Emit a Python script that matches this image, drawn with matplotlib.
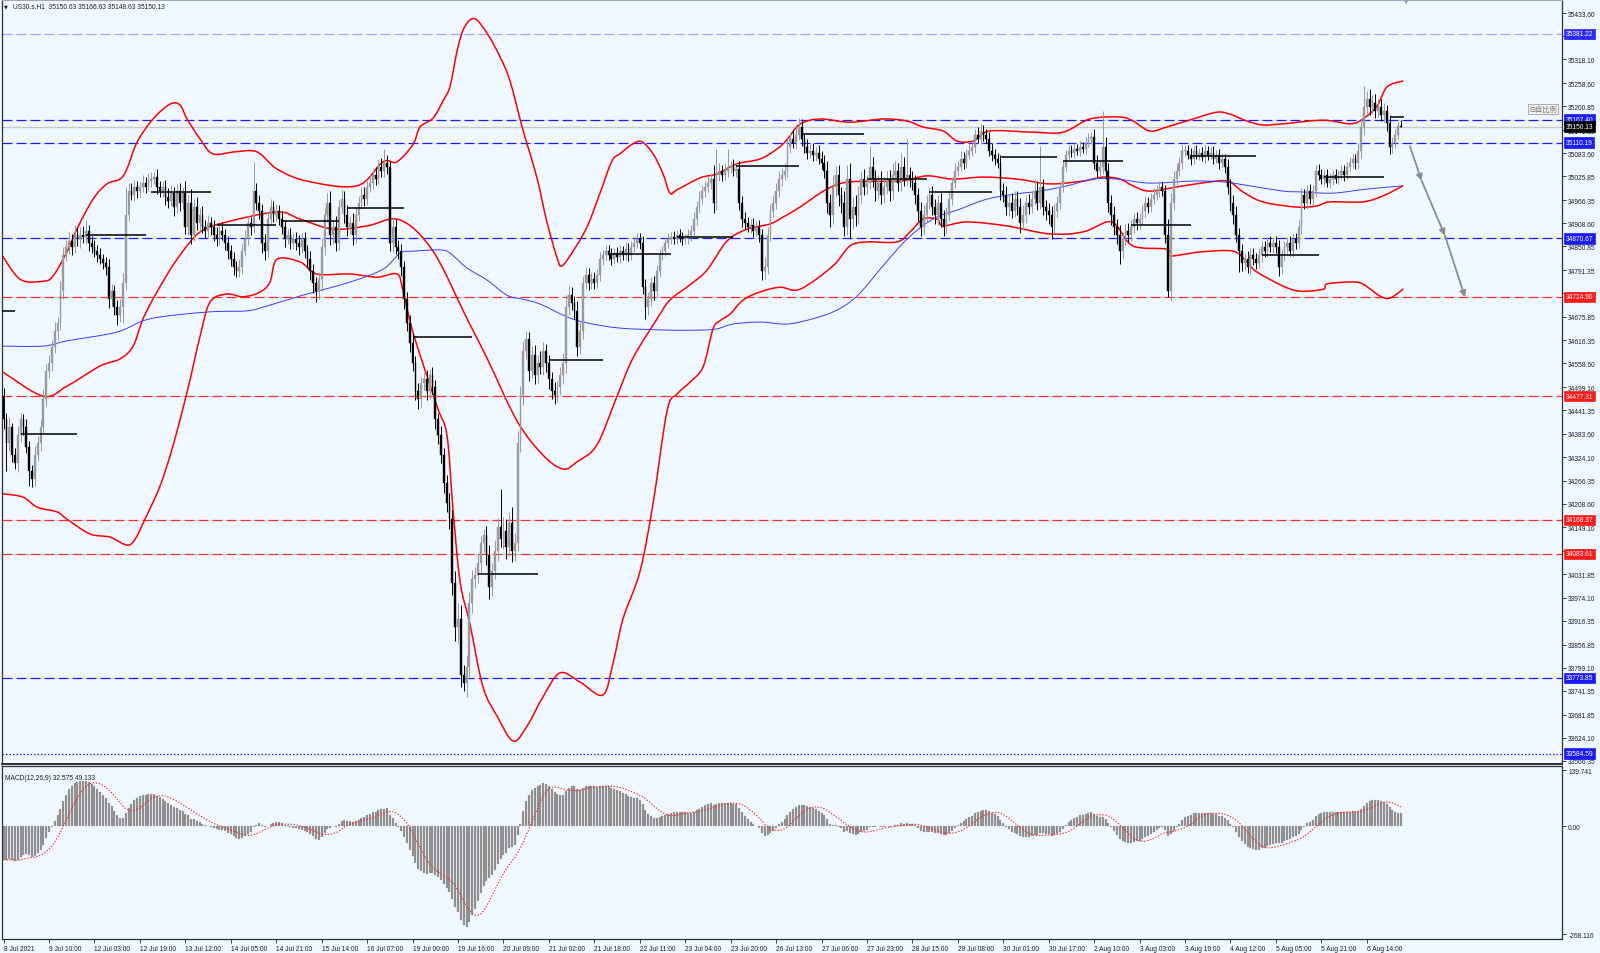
import numpy as np
import pandas as pd
import matplotlib
matplotlib.use("Agg")
import matplotlib.pyplot as plt
from matplotlib.path import Path
from matplotlib.patches import PathPatch
from matplotlib.transforms import blended_transform_factory

plt.rcParams['font.family'] = ['Liberation Sans', 'DejaVu Sans']

symbol_line = "US30.s,H1  35150.63 35166.63 35148.63 35150.13"
macd_title = "MACD(12,26,9) 32.575 49.133"

# H1 closes, 16 bars per row (one row per time label)
first_open = 34478.0
closes = [
    34420, 34360, 34400, 34330, 34310, 34380, 34420, 34400, 34350, 34290, 34270, 34330, 34360, 34400, 34470, 34540,
    34560, 34600, 34640, 34660, 34740, 34830, 34850, 34865, 34850, 34880, 34870, 34880, 34875, 34890, 34860, 34850,
    34840, 34830, 34820, 34810, 34800, 34720, 34740, 34700, 34680, 34700, 34760, 34930, 34990, 34980, 35000, 34990,
    35000, 35010, 35000, 35015, 35020, 35025, 35000, 34990, 35000, 34975, 34965, 34985, 34950, 34990, 34960, 34985,
    34900, 34960, 34880, 34950, 34910, 34930, 34900, 34890, 34910, 34900, 34880, 34870, 34890, 34880, 34860, 34840,
    34820, 34800, 34790, 34800, 34840, 34870, 34910, 34900, 34990, 34960, 34940, 34860, 34840, 34920, 34950, 34930,
    34940, 34920, 34900, 34870, 34880, 34860, 34870, 34860, 34850, 34870, 34840, 34820, 34790, 34760, 34740, 34770,
    34850, 34930, 34960, 34880, 34900, 34860, 34950, 34970, 34930, 34900, 34910, 34880, 34930, 34960, 34980, 34970,
    35000, 35010, 35030, 35020, 35050, 35040, 35060, 35050, 34860, 34900, 34850, 34840, 34800, 34720, 34660, 34610,
    34560, 34490, 34470, 34510, 34520, 34490, 34530, 34500, 34420, 34380, 34330, 34260, 34210, 34170, 34010, 33900,
    33920, 33780, 33760, 33800, 33960, 34020, 34030, 34060, 34110, 34130, 34080, 34000, 34040, 34090, 34150, 34120,
    34140, 34100, 34160, 34090, 34110, 34360, 34480, 34590, 34620, 34540, 34580, 34530, 34560, 34550, 34590, 34560,
    34520, 34490, 34480, 34500, 34530, 34560, 34700, 34730, 34710, 34690, 34600, 34640, 34760, 34780, 34760, 34770,
    34760, 34780, 34820, 34830, 34840, 34830, 34820, 34835, 34825, 34840, 34830, 34845, 34830, 34850, 34860, 34870,
    34860, 34750, 34700, 34720, 34760, 34740, 34790, 34830, 34840, 34860, 34870, 34875, 34870, 34880, 34875, 34870,
    34870, 34880, 34890, 34920, 34950, 34970, 34990, 35000, 35010, 35020, 34960, 35030, 35040, 35030, 35040, 35050,
    35050, 35040, 35045, 34960, 34920, 34910, 34900, 34905, 34890, 34900, 34880, 34790, 34800, 34880, 34940, 34960,
    34990, 35020, 35030, 35040, 35100, 35120, 35110, 35130, 35150, 35120, 35100, 35085, 35090, 35080, 35085, 35070,
    35060, 35040, 34960, 34930, 35000, 35030, 34980, 34960, 34900, 35020, 34920, 34950, 34930, 34980, 35020, 35000,
    35010, 35050, 35020, 34990, 35010, 34980, 35000, 35020, 34990, 35030, 35040, 35010, 35050, 35020, 35030, 35020,
    35010, 34980, 34940, 34900, 34930, 34960, 34980, 34950, 34930, 34960, 34920, 34900, 34930, 34970, 35010, 35040,
    35050, 35070, 35060, 35080, 35090, 35100, 35130, 35120, 35140, 35130, 35120, 35090, 35080, 35070, 35060, 34990,
    34980, 34950, 34960, 34940, 34970, 34950, 34910, 34930, 34960, 34950, 34970, 34990, 34960, 35000, 34950, 34940,
    34930, 34900, 34940, 34960, 35000, 35050, 35080, 35090, 35085, 35095, 35090, 35100, 35095, 35110, 35120, 35125,
    35060, 35040, 35050, 35100, 35040, 34960, 34930, 34900, 34880, 34840, 34870, 34890, 34880, 34900, 34920, 34910,
    34920, 34940, 34960, 34950, 34970, 34980, 34990, 35000, 34990, 34880, 34740, 34960, 35020, 35040, 35060, 35090,
    35090, 35080, 35070, 35090, 35080, 35085, 35075, 35090, 35080, 35085, 35070, 35080, 35060, 35070, 35050, 35000,
    34960, 34930, 34880, 34840, 34810, 34820, 34800, 34830, 34820, 34810, 34830, 34850, 34840, 34860, 34850, 34860,
    34850, 34800, 34830, 34850, 34860, 34840, 34870, 34860, 34900, 34980, 34960, 34990, 34970, 34990, 35040, 35030,
    35020, 35030, 35010, 35020, 35030, 35020, 35030, 35040, 35030, 35050, 35060, 35070, 35060, 35090, 35150, 35200,
    35220, 35200, 35210, 35190, 35200, 35180, 35190, 35160, 35100, 35110, 35130, 35150.63, 35150.13,
]

# wick length above / below the body, points
wick_hi = [
    20, 15, 25, 10, 18, 22, 15, 12, 20, 14, 16, 22, 18, 20, 24, 18,
    20, 18, 22, 15, 25, 20, 18, 22, 16, 24, 18, 20, 22, 26, 15, 18,
    16, 14, 18, 12, 15, 20, 18, 14, 16, 20, 24, 70, 18, 20, 16, 14,
    15, 18, 14, 20, 16, 12, 18, 15, 14, 16, 22, 18, 14, 16, 20, 15,
    30, 18, 35, 20, 25, 16, 22, 18, 20, 15, 18, 20, 16, 22, 14, 18,
    15, 18, 14, 20, 16, 22, 18, 15, 71, 20, 18, 16, 22, 18, 20, 15,
    18, 14, 20, 16, 15, 18, 14, 16, 20, 15, 18, 14, 20, 16, 15, 18,
    22, 18, 25, 30, 20, 28, 18, 22, 20, 25, 18, 24, 20, 16, 18, 20,
    15, 18, 14, 20, 16, 22, 34, 20, 15, 25, 20, 18, 16, 15, 18, 20,
    22, 18, 20, 15, 18, 22, 16, 20, 18, 15, 22, 18, 20, 25, 22, 30,
    40, 35, 25, 30, 28, 22, 20, 25, 18, 15, 22, 25, 20, 28, 22, 96,
    35, 30, 28, 40, 25, 30, 22, 25, 20, 18, 22, 25, 20, 30, 22, 18,
    20, 18, 22, 16, 20, 25, 30, 22, 20, 18, 25, 22, 18, 20, 16, 18,
    16, 14, 18, 12, 15, 14, 16, 12, 15, 14, 12, 16, 14, 15, 12, 14,
    14, 18, 20, 16, 14, 18, 15, 14, 12, 15, 14, 12, 14, 12, 14, 12,
    12, 14, 15, 16, 14, 18, 15, 14, 16, 15, 35, 63, 18, 15, 20, 43,
    15, 18, 14, 20, 16, 18, 14, 15, 16, 14, 18, 15, 25, 20, 16, 18,
    20, 18, 16, 20, 18, 15, 22, 20, 21, 18, 15, 20, 16, 18, 15, 20,
    18, 20, 25, 22, 30, 22, 25, 20, 28, 35, 40, 25, 30, 22, 20, 25,
    20, 52, 25, 22, 18, 30, 25, 20, 22, 28, 25, 20, 35, 25, 89, 20,
    18, 20, 16, 22, 25, 20, 18, 22, 20, 18, 25, 22, 20, 18, 15, 20,
    15, 18, 16, 14, 18, 15, 14, 18, 16, 15, 14, 16, 18, 15, 14, 20,
    18, 22, 20, 25, 18, 20, 22, 25, 20, 22, 18, 30, 25, 102, 20, 18,
    20, 22, 18, 16, 15, 14, 12, 14, 15, 14, 12, 14, 12, 14, 15, 12,
    18, 20, 16, 90, 25, 20, 18, 22, 20, 25, 18, 16, 20, 18, 15, 16,
    15, 14, 16, 15, 14, 16, 15, 14, 12, 15, 40, 25, 18, 16, 14, 15,
    15, 14, 16, 12, 14, 12, 15, 14, 12, 14, 16, 12, 15, 14, 12, 18,
    18, 20, 22, 16, 18, 15, 20, 16, 18, 15, 16, 14, 15, 14, 16, 14,
    16, 18, 14, 15, 14, 16, 14, 15, 18, 16, 15, 14, 16, 15, 14, 16,
    14, 12, 15, 14, 12, 14, 12, 15, 14, 12, 14, 15, 12, 18, 20, 52,
    20, 25, 18, 22, 20, 18, 20, 15, 18, 15, 14, 12, 16,
]
wick_lo = [
    25, 69, 20, 18, 15, 22, 18, 20, 15, 37, 20, 18, 15, 20, 16, 18,
    18, 20, 16, 22, 18, 20, 15, 18, 20, 16, 18, 22, 15, 18, 20, 16,
    15, 18, 14, 16, 20, 22, 18, 20, 25, 18, 40, 18, 15, 14, 16, 18,
    15, 14, 16, 12, 15, 14, 18, 16, 15, 20, 18, 14, 22, 16, 20, 15,
    18, 20, 22, 15, 18, 20, 16, 18, 15, 20, 16, 18, 15, 14, 18, 20,
    18, 20, 16, 15, 18, 14, 16, 20, 15, 18, 20, 25, 22, 16, 15, 18,
    15, 16, 18, 20, 14, 16, 15, 18, 20, 16, 18, 20, 22, 25, 29, 20,
    30, 20, 18, 25, 22, 20, 18, 16, 20, 22, 18, 25, 20, 16, 15, 18,
    15, 14, 16, 15, 14, 16, 15, 18, 20, 25, 18, 20, 22, 25, 20, 22,
    20, 22, 25, 20, 18, 22, 20, 18, 25, 22, 20, 25, 22, 25, 30, 35,
    40, 30, 19, 35, 30, 25, 22, 20, 25, 22, 25, 30, 22, 20, 25, 20,
    25, 30, 22, 28, 25, 20, 22, 25, 20, 25, 18, 22, 20, 18, 20, 22,
    25, 20, 22, 18, 20, 22, 25, 20, 18, 20, 22, 18, 20, 16, 18, 15,
    15, 14, 16, 15, 14, 12, 15, 14, 12, 15, 14, 12, 15, 14, 12, 14,
    15, 18, 30, 20, 18, 22, 16, 15, 14, 12, 14, 12, 14, 12, 14, 15,
    14, 12, 15, 14, 16, 15, 14, 15, 14, 16, 25, 18, 16, 15, 14, 16,
    15, 14, 16, 18, 20, 16, 14, 15, 16, 14, 18, 23, 20, 18, 16, 15,
    15, 16, 18, 14, 16, 15, 14, 16, 14, 18, 15, 16, 14, 15, 16, 14,
    16, 18, 25, 30, 22, 25, 28, 25, 22, 20, 50, 25, 28, 22, 20, 22,
    18, 16, 22, 25, 18, 22, 20, 18, 25, 20, 18, 22, 20, 18, 16, 20,
    18, 22, 25, 22, 20, 18, 16, 20, 22, 25, 20, 22, 18, 16, 15, 14,
    14, 12, 15, 14, 12, 14, 15, 12, 14, 15, 12, 14, 16, 15, 14, 22,
    18, 20, 22, 18, 16, 20, 25, 18, 20, 18, 16, 15, 18, 16, 20, 22,
    22, 31, 18, 16, 15, 14, 12, 14, 12, 14, 12, 14, 12, 14, 12, 14,
    15, 16, 14, 18, 20, 22, 25, 20, 22, 33, 18, 16, 18, 15, 16, 18,
    15, 14, 16, 15, 14, 12, 14, 15, 14, 20, 16, 25, 18, 16, 14, 15,
    14, 12, 15, 14, 12, 14, 12, 15, 14, 12, 14, 12, 15, 14, 16, 18,
    20, 22, 18, 54, 20, 18, 16, 18, 15, 16, 14, 18, 15, 16, 14, 15,
    16, 22, 18, 15, 16, 14, 15, 16, 14, 18, 16, 15, 14, 16, 15, 14,
    14, 15, 12, 14, 15, 12, 14, 12, 15, 14, 12, 14, 15, 16, 18, 20,
    18, 20, 16, 18, 15, 16, 18, 22, 18, 16, 14, 12, 1.5,
]

time_labels = ["8 Jul 2021", "9 Jul 10:00", "12 Jul 03:00", "12 Jul 19:00", "13 Jul 12:00",
               "14 Jul 05:00", "14 Jul 21:00", "15 Jul 14:00", "16 Jul 07:00", "19 Jul 00:00",
               "19 Jul 16:00", "20 Jul 09:00", "21 Jul 02:00", "21 Jul 18:00", "22 Jul 11:00",
               "23 Jul 04:00", "23 Jul 20:00", "26 Jul 13:00", "27 Jul 06:00", "27 Jul 23:00",
               "28 Jul 15:00", "29 Jul 08:00", "30 Jul 01:00", "30 Jul 17:00", "2 Aug 10:00",
               "3 Aug 03:00", "3 Aug 19:00", "4 Aug 12:00", "5 Aug 05:00", "5 Aug 21:00",
               "6 Aug 14:00"]
bars_per_label = 16

price_ticks = [35433.60, 35375.85, 35318.10, 35258.60, 35200.85, 35141.35, 35083.60, 35025.85,
               34966.35, 34908.60, 34850.85, 34791.35, 34733.60, 34675.85, 34616.35, 34558.60,
               34499.10, 34441.35, 34383.60, 34324.10, 34266.35, 34208.60, 34149.10, 34091.35,
               34031.85, 33974.10, 33916.35, 33856.85, 33799.10, 33741.35, 33681.85, 33624.10,
               33566.35]

# horizontal levels
level_prices = [35381.22, 35167.40, 35110.19, 34870.67, 34724.90, 34477.31, 34168.37, 34083.61, 33773.85, 33584.59]
level_kind = ['light', 'blue', 'blue', 'blue', 'red', 'red', 'red', 'red', 'blue', 'dot']
last_price = 35150.13

# daily open segments (start bar, end bar, price)
day_start = [-1, 6, 29, 52, 75, 98, 121, 144, 167, 192, 213, 237, 258, 281, 304, 326, 351, 373, 397, 418, 443, 465, 488]
day_end = [4, 26, 50, 73, 96, 118, 141, 165, 188, 211, 235, 257, 280, 303, 325, 348, 371, 394, 418, 441, 463, 486, 493]
day_price = [34690, 34382, 34879, 34986, 34904, 34915, 34948, 34625, 34032, 34567, 34833, 34875, 35051,
             35131, 35019, 34987, 35075, 35065, 34904, 35076, 34829, 35025, 35173]

# bollinger bands
bb_up_x = [-1.3, 5.8, 13.9, 17.4, 22.3, 25.8, 31.5, 36.4, 41.0, 43.4, 47.0, 52.6, 58.6, 62.1, 64.6, 69.2,
           73.7, 81.5, 89.2, 96.3, 106.8, 124.4, 133.6, 138.5, 144.2, 146.6, 151.2, 154.7, 157.2, 160.0,
           162.5, 166.0, 170.6, 174.8, 178.3, 182.9, 187.8, 191.3, 194.9, 196.6, 200.5, 205.4, 210.0,
           214.2, 217.0, 221.6, 224.8, 228.7, 232.2, 234.6, 237.1, 245.2, 251.2, 258.2, 266.3, 272.3,
           275.8, 280.4, 287.5, 298.0, 309.6, 318.1, 323.7, 330.8, 335.7, 341.3, 347.3, 362.5, 373.0,
           382.5, 393.1, 397.7, 403.6, 409.6, 418.8, 427.2, 431.8, 437.8, 443.4, 450.5, 464.6, 474.1,
           478.6, 483.6, 487.1, 492.7]
bb_up_y = [34837, 34769, 34764, 34777, 34837, 34894, 34969, 35007, 35019, 35044, 35111, 35169, 35206, 35204,
           35169, 35119, 35082, 35087, 35087, 35044, 35014, 35002, 35062, 35062, 35106, 35149, 35171, 35214,
           35251, 35349, 35401, 35419, 35379, 35324, 35264, 35141, 35022, 34912, 34822, 34802, 34839, 34899,
           34984, 35064, 35082, 35107, 35112, 35082, 35032, 34984, 34992, 35022, 35032, 35057, 35069, 35094,
           35117, 35156, 35169, 35161, 35169, 35164, 35149, 35139, 35114, 35114, 35139, 35136, 35136, 35169,
           35174, 35164, 35139, 35149, 35169, 35186, 35181, 35164, 35154, 35157, 35166, 35157, 35169, 35201,
           35249, 35264]
bb_mid_x = [-0.2, 13.9, 22.3, 33.9, 41.0, 45.6, 49.1, 54.0, 61.1, 69.2, 78.7, 96.3, 104.4, 116.0, 128.0,
            139.6, 151.2, 163.2, 170.2, 180.8, 189.9, 197.0, 201.9, 208.9, 216.0, 221.6, 230.1, 234.6,
            241.7, 247.7, 254.7, 261.8, 269.9, 274.4, 280.4, 289.9, 298.0, 315.6, 325.1, 334.3, 344.9,
            356.8, 368.4, 380.0, 387.1, 393.1, 397.7, 403.6, 415.3, 427.2, 431.8, 436.4, 443.4, 455.4,
            462.4, 467.0, 478.6, 485.7, 492.7]
bb_mid_y = [34537, 34477, 34502, 34552, 34570, 34602, 34670, 34737, 34819, 34887, 34912, 34937, 34919, 34894,
            34902, 34917, 34839, 34670, 34572, 34415, 34330, 34295, 34313, 34355, 34477, 34572, 34670, 34717,
            34755, 34792, 34864, 34894, 34907, 34924, 34949, 34994, 35012, 35014, 35027, 35019, 35024, 35019,
            35007, 35014, 35024, 35019, 35002, 34989, 35002, 35014, 35012, 34987, 34962, 34949, 34952, 34962,
            34962, 34977, 35002]
bb_lo_x = [-0.2, 6.8, 11.8, 18.8, 22.3, 30.4, 37.5, 43.4, 46.3, 49.8, 55.1, 59.6, 64.6, 69.2, 72.7, 78.7,
           84.3, 90.3, 93.8, 96.3, 104.4, 110.3, 122.0, 131.5, 138.5, 140.6, 144.2, 152.6, 156.1, 158.2,
           160.7, 164.2, 168.8, 173.7, 179.4, 184.3, 189.9, 195.9, 203.0, 211.0, 214.6, 218.1, 224.1,
           228.7, 233.6, 237.1, 241.7, 246.3, 249.8, 252.2, 255.8, 260.4, 266.3, 273.4, 280.4, 292.0,
           298.0, 304.0, 314.6, 319.2, 323.7, 328.7, 330.8, 339.2, 353.3, 368.4, 380.0, 388.5, 392.0,
           397.7, 409.6, 410.7, 421.3, 432.9, 437.8, 441.3, 450.5, 456.5, 464.6, 466.0, 474.1, 478.6,
           484.6, 488.2, 492.7]
bb_lo_y = [34233, 34225, 34200, 34188, 34170, 34133, 34125, 34105, 34120, 34170, 34253, 34352, 34487, 34627,
           34712, 34732, 34725, 34737, 34762, 34819, 34812, 34782, 34782, 34774, 34782, 34742, 34635, 34452,
           34380, 34198, 34015, 33908, 33751, 33679, 33616, 33653, 33726, 33786, 33763, 33731, 33811, 33921,
           34040, 34210, 34440, 34482, 34512, 34550, 34645, 34665, 34682, 34717, 34737, 34749, 34744, 34802,
           34852, 34862, 34862, 34887, 34919, 34919, 34902, 34912, 34902, 34882, 34887, 34912, 34902, 34852,
           34844, 34827, 34837, 34839, 34812, 34787, 34752, 34739, 34744, 34757, 34762, 34757, 34727, 34722,
           34744]
# slow moving average (blue)
ma_x = [-1.3, 13.9, 22.3, 39.9, 51.5, 71.6, 85.7, 92.7, 104.4, 122.0, 133.6, 139.6, 144.2, 153.7, 157.2,
        163.2, 170.2, 177.3, 182.9, 188.9, 198.4, 205.4, 217.0, 233.6, 245.2, 251.2, 256.8, 266.3, 274.4,
        280.4, 292.0, 300.5, 309.6, 318.1, 327.2, 336.7, 346.3, 356.8, 364.9, 374.4, 383.6, 392.0, 403.6,
        418.8, 429.4, 438.9, 450.5, 456.5, 468.1, 480.0, 492.7]
ma_y = [34602, 34602, 34615, 34637, 34670, 34687, 34690, 34702, 34727, 34762, 34794, 34834, 34839, 34842,
        34834, 34797, 34767, 34729, 34719, 34707, 34675, 34660, 34647, 34642, 34642, 34645, 34657, 34662,
        34657, 34662, 34687, 34727, 34802, 34869, 34919, 34944, 34969, 34982, 34989, 35002, 35019, 35019,
        35009, 35014, 35012, 35002, 34989, 34987, 34984, 34994, 35002]

# projected path arrows (grey)
proj_x = [495.2, 499.3, 507.5, 514.6]
proj_y = [35101, 35015, 34878, 34724]

# MACD seeds for the EMAs before the first visible bar
ema12_seed = 34470.0
ema26_seed = 34555.0
macd_ticks = [139.741, 0.0, -268.116]
macd_tick_labels = ['139.741', '0.00', '-268.116']

# ---------------------------------------------------------------
bg = '#f0f8ff'
c = np.array(closes, dtype=float)
n = len(c)
x = np.arange(n)
o = np.concatenate([[first_open], c[:-1]])
top = np.maximum(o, c)
bot = np.minimum(o, c)
hi = top + np.array(wick_hi)
lo = bot - np.array(wick_lo)
up = c >= o


def ema(vals, period, seed):
    k = 2.0 / (period + 1)
    out = np.empty(len(vals))
    prev = seed
    for i, v in enumerate(vals):
        prev = prev + k * (v - prev)
        out[i] = prev
    return out


def smooth_path(xs, ys):
    # bezier path through the read points (catmull-rom handles)
    p = np.column_stack([xs, ys]).astype(float)
    verts = [p[0]]
    codes = [Path.MOVETO]
    for i in range(len(p) - 1):
        p0 = p[i - 1] if i > 0 else p[i]
        p3 = p[i + 2] if i + 2 < len(p) else p[i + 1]
        c1 = p[i] + (p[i + 1] - p0) / 6.0
        c2 = p[i + 1] - (p3 - p[i]) / 6.0
        verts += [c1, c2, p[i + 1]]
        codes += [Path.CURVE4] * 3
    return Path(verts, codes)


macd = ema(c, 12, ema12_seed) - ema(c, 26, ema26_seed)
signal = pd.Series(macd).rolling(9, min_periods=1).mean().values

W, H = 1600, 954
fig = plt.figure(figsize=(W / 100, H / 100), dpi=100, facecolor=bg)
ax = fig.add_axes([2 / W, 1 - 765 / H, 1560 / W, 764 / H], facecolor=bg)
ax2 = fig.add_axes([2 / W, 1 - 940 / H, 1560 / W, 173 / H], facecolor=bg, sharex=ax)

xmin, xmax = (2 - 3.6) / 2.84, (1562 - 3.6) / 2.84
ax.set_xlim(xmin, xmax)
ax.set_ylim(33558.6, 35466.1)

# levels
lvl_col = {'light': '#a6a6ff', 'blue': '#1a1aff', 'red': '#ff2a2a', 'dot': '#1a1aff'}
lbl_col = {'light': '#2a2aff', 'blue': '#1a1aff', 'red': '#ff1a1a', 'dot': '#1a1aff'}
for p, k in zip(level_prices, level_kind):
    if k == 'dot':
        ax.axhline(p, color=lvl_col[k], lw=0.9, dashes=(1.2, 1.6), zorder=1)
    else:
        ax.axhline(p, color=lvl_col[k], lw=0.9, dashes=(8, 3.2), zorder=1)
ax.axhline(last_price, color='#c8c8c8', lw=1.0, zorder=0.9)

# bands and MA
for bx, by in [(bb_up_x, bb_up_y), (bb_mid_x, bb_mid_y), (bb_lo_x, bb_lo_y)]:
    ax.add_patch(PathPatch(smooth_path(bx, by), fill=False, edgecolor='#ff0000', lw=1.1,
                           zorder=2, capstyle='round', joinstyle='round'))
ax.add_patch(PathPatch(smooth_path(ma_x, ma_y), fill=False, edgecolor='#3c3cff', lw=0.7, zorder=2))

# candles
bull_col, bear_col = '#9a9a9a', '#000000'
cols = np.where(up, bull_col, bear_col)
ax.vlines(x, lo, hi, colors=cols, lw=0.7, zorder=3)
body_h = np.maximum(top - bot, 2.0)
ax.bar(x, body_h, bottom=bot, width=0.62, color=cols, edgecolor=cols, lw=0.3, zorder=3.1)

# daily open segments
ax.hlines(day_price, day_start, day_end, colors='#000000', lw=1.1, zorder=4)

# projection arrows
for i in range(len(proj_x) - 1):
    ax.annotate('', xy=(proj_x[i + 1], proj_y[i + 1]), xytext=(proj_x[i], proj_y[i]),
                arrowprops=dict(arrowstyle='-|>', color='#8c8c8c', lw=1.3, mutation_scale=9,
                                shrinkA=0, shrinkB=0), zorder=5)

# right price axis
ax.yaxis.tick_right()
ax.set_yticks(price_ticks)
ax.set_yticklabels(['%.2f' % t for t in price_ticks])
ax.tick_params(axis='y', direction='out', length=3, width=0.6, pad=1.5, labelsize=4.8,
               colors='#202020')
ax.tick_params(axis='x', bottom=False, labelbottom=False)

tr = blended_transform_factory(ax.transAxes, ax.transData)
for p, k in zip(level_prices, level_kind):
    ax.text(1.0025, p, '%.2f' % p, transform=tr, fontsize=4.8, color='white', va='center', ha='left',
            zorder=6, clip_on=False,
            bbox=dict(boxstyle='square,pad=0.25', fc=lbl_col[k], ec=lbl_col[k], lw=0.5))
ax.text(1.0025, last_price, '%.2f' % last_price, transform=tr, fontsize=4.8, color='white', va='center',
        ha='left', zorder=7, clip_on=False,
        bbox=dict(boxstyle='square,pad=0.25', fc='#000000', ec='#000000', lw=0.5))

for s in ['left', 'right', 'bottom']:
    ax.spines[s].set_color('#303030')
    ax.spines[s].set_linewidth(0.9)
ax.spines['bottom'].set_linewidth(1.4)
ax.spines['top'].set_color('#a8a8a8')

# MACD pane
ax2.bar(x, macd, width=0.7, color='#8a8a8a', edgecolor='#b0b0b0', lw=0.2, zorder=2)
ax2.plot(x, signal, color='#ff2020', lw=0.8, dashes=(1.2, 1.5), zorder=3)
ax2.set_ylim(-280.3, 150.0)
ax2.yaxis.tick_right()
ax2.set_yticks(macd_ticks)
ax2.set_yticklabels(macd_tick_labels)
ax2.tick_params(axis='y', direction='out', length=3, width=0.6, pad=1.5, labelsize=4.8, colors='#202020')
tick_pos = np.arange(len(time_labels)) * bars_per_label
ax2.set_xticks(tick_pos)
ax2.set_xticklabels(time_labels)
ax2.tick_params(axis='x', direction='out', length=3, width=0.6, pad=1.5, labelsize=4.8, colors='#202020')
for lab in ax2.get_xticklabels():
    lab.set_ha('left')
for s in ax2.spines.values():
    s.set_color('#303030')
    s.set_linewidth(0.9)
ax2.text(0.002, 0.955, macd_title, transform=ax2.transAxes, fontsize=4.8, color='#202020',
         va='top', ha='left')

# header and widgets
fig.text(4 / W, 1 - 6.5 / H, '\u25bc', fontsize=3.6, color='#202020', va='center', ha='left',
         family=['DejaVu Sans'])
fig.text(13 / W, 1 - 6.5 / H, symbol_line, fontsize=4.8, color='#202020', va='center', ha='left')
fig.text(1406 / W, 1 - 3 / H, '\u25bc', fontsize=4.2, color='#a0a0a0', va='center', ha='center',
         family=['DejaVu Sans'])
fig.text(1529 / W, 1 - 110 / H, '\u229f\u81ea\u6bd4\u4f8b', fontsize=5.2, color='#707070', va='center',
         ha='left', family=['Noto Sans CJK SC', 'DejaVu Sans'], zorder=8,
         bbox=dict(boxstyle='square,pad=0.2', fc='#f4f4f4', ec='#a0a0a0', lw=0.6))

fig.savefig('out.png', dpi=100, facecolor=bg)
